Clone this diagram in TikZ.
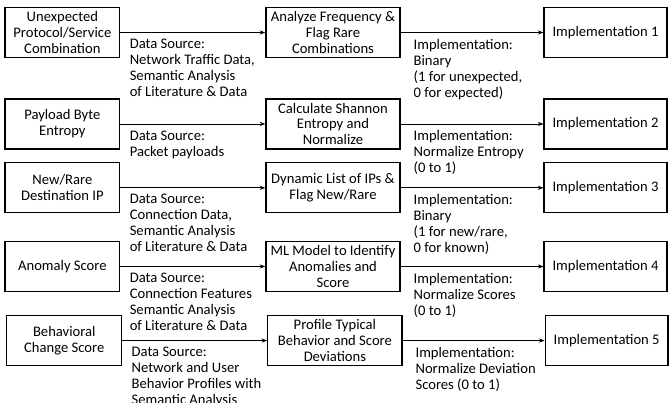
\documentclass[tikz,border=0pt]{standalone}
\usepackage{fontspec}
\setmainfont{Carlito}
\usepackage{tikz}
\usetikzlibrary{arrows.meta,positioning}
\tikzset{
  caja/.style={draw,line width=0.9pt,align=center,font=\fontsize{11}{12}\selectfont,inner sep=2pt,minimum height=1.32cm},
  cajaizq/.style={caja,minimum width=3.04cm},
  cajamed/.style={caja,minimum width=3.55cm},
  cajader/.style={caja,minimum width=3.25cm},
  flecha/.style={-{Stealth[length=1.5mm,width=1.1mm]},line width=0.6pt},
  etiqueta/.style={font=\fontsize{11}{12}\selectfont,align=left,anchor=north west,pos=0,inner xsep=6.75pt,inner ysep=4.7pt},
  etiquetaimp/.style={etiqueta,inner xsep=9.5pt},
}

\begin{document}
\begin{tikzpicture}
  \useasboundingbox (0,0) rectangle (17.70,-10.66);
  % fila 1
  \node[cajaizq] (car1) at (1.65,-0.86) {Unexpected\\Protocol/Service\\Combination};
  \node[cajamed] (met1) at (8.81,-0.86) {Analyze Frequency \&\\Flag Rare\\Combinations};
  \node[cajader] (imp1) at (16.02,-0.86) {Implementation 1};
  \draw[flecha] (car1.east) -- (met1.west) node[etiqueta] {Data Source:\\Network Traffic Data,\\Semantic Analysis\\of Literature \& Data};
  \draw[flecha] (met1.east) -- (imp1.west) node[etiquetaimp] {Implementation:\\Binary\\(1 for unexpected,\\0 for expected)};
  % fila 2
  \node[cajaizq] (car2) at (1.65,-3.28) {Payload Byte\\Entropy};
  \node[cajamed] (met2) at (8.81,-3.28) {Calculate Shannon\\Entropy and\\Normalize};
  \node[cajader] (imp2) at (16.02,-3.28) {Implementation 2};
  \draw[flecha] (car2.east) -- (met2.west) node[etiqueta] {Data Source:\\Packet payloads};
  \draw[flecha] (met2.east) -- (imp2.west) node[etiquetaimp] {Implementation:\\Normalize Entropy\\(0 to 1)};
  % fila 3
  \node[cajaizq] (car3) at (1.65,-4.97) {New/Rare\\Destination IP};
  \node[cajamed] (met3) at (8.81,-4.97) {Dynamic List of IPs \&\\Flag New/Rare};
  \node[cajader] (imp3) at (16.02,-4.97) {Implementation 3};
  \draw[flecha] (car3.east) -- (met3.west) node[etiqueta] {Data Source:\\Connection Data,\\Semantic Analysis\\of Literature \& Data};
  \draw[flecha] (met3.east) -- (imp3.west) node[etiquetaimp] {Implementation:\\Binary\\(1 for new/rare,\\0 for known)};
  % fila 4
  \node[cajaizq] (car4) at (1.65,-7.05) {Anomaly Score};
  \node[cajamed] (met4) at (8.81,-7.05) {ML Model to Identify\\Anomalies and\\Score};
  \node[cajader] (imp4) at (16.02,-7.05) {Implementation 4};
  \draw[flecha] (car4.east) -- (met4.west) node[etiqueta] {Data Source:\\Connection Features\\Semantic Analysis\\of Literature \& Data};
  \draw[flecha] (met4.east) -- (imp4.west) node[etiquetaimp] {Implementation:\\Normalize Scores\\(0 to 1)};
  % fila 5
  \node[cajaizq] (car5) at (1.70,-9.01) {Behavioral\\Change Score};
  \node[cajamed] (met5) at (8.86,-9.01) {Profile Typical\\Behavior and Score\\Deviations};
  \node[cajader] (imp5) at (16.05,-9.01) {Implementation 5};
  \draw[flecha] (car5.east) -- (met5.west) node[etiqueta] {Data Source:\\Network and User\\Behavior Profiles with\\Semantic Analysis};
  \draw[flecha] (met5.east) -- (imp5.west) node[etiquetaimp] {Implementation:\\Normalize Deviation\\Scores (0 to 1)};
\end{tikzpicture}
\end{document}
